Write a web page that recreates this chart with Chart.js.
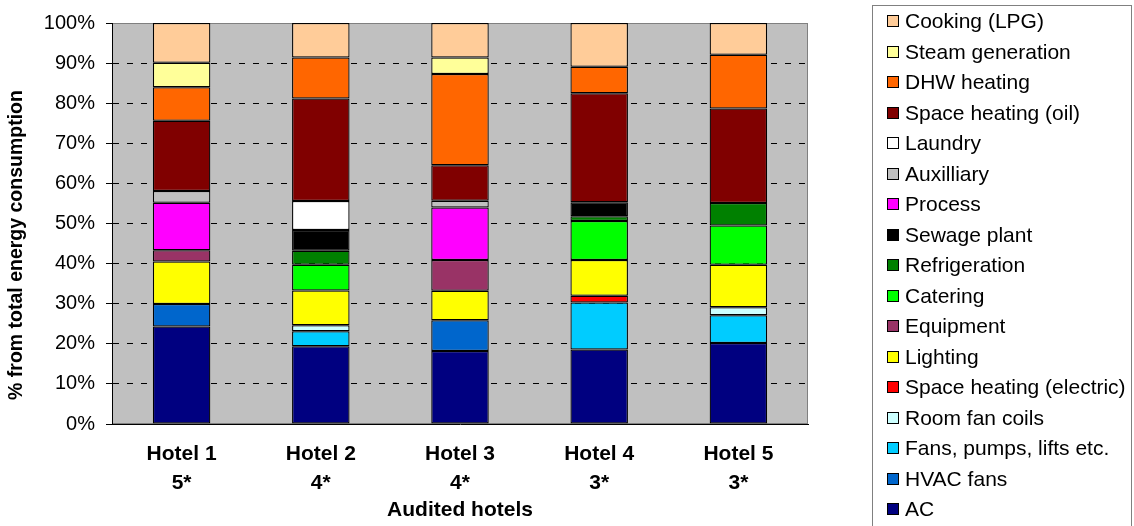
<!DOCTYPE html>
<html>
<head>
<meta charset="utf-8">
<script src="https://cdn.jsdelivr.net/npm/chart.js@4/dist/chart.umd.min.js"></script>
<style>
  html, body { margin: 0; padding: 0; background: #fff; }
  #wrap { position: relative; width: 1134px; height: 526px; overflow: hidden; }
  #wrap canvas { position: absolute; left: 0; top: 0; }
  #legend {
    position: absolute; left: 872px; top: 5px; width: 260px; height: 530px;
    border: 1px solid #808080; box-sizing: border-box;
    font-family: 'Liberation Sans', Arial, sans-serif; font-size: 21px; color: #000;
  }
  .item { position: absolute; left: 0; height: 30px; line-height: 30px; white-space: nowrap; }
  .swatch { position: absolute; left: 14px; top: 9px; width: 12px; height: 12px;
            border: 1px solid #000; box-sizing: border-box; }
  .label { position: absolute; left: 32px; top: 0; }
</style>
</head>
<body>
<div id="wrap">
  <canvas id="chart" width="1134" height="526"></canvas>
  <div id="legend"></div>
</div>
<script>
// Audited hotels and their star ratings
const hotelNames = ['Hotel 1', 'Hotel 2', 'Hotel 3', 'Hotel 4', 'Hotel 5'];
const hotelStars = ['5*', '4*', '4*', '3*', '3*'];

// Share of total energy consumption (%) per end use, stacked from the bottom up
const ac                   = [24.3, 19.4, 18.2, 18.6, 20.2];
const hvacFans             = [5.6, 0, 7.7, 0, 0];
const fansPumpsLifts       = [0, 3.7, 0, 11.7, 6.9];
const roomFanCoils         = [0, 1.5, 0, 0, 2.0];
const spaceHeatingElectric = [0, 0, 0, 1.7, 0];
const lighting             = [10.6, 8.7, 7.3, 8.9, 10.6];
const equipment            = [2.8, 0, 7.7, 0, 0];
const catering             = [0, 6.4, 0, 9.7, 9.8];
const refrigeration        = [0, 3.5, 0, 1.2, 5.6];
const sewagePlant          = [0, 5.2, 0, 3.5, 0];
const processUse           = [11.9, 0, 13.1, 0, 0];
const auxilliary           = [2.9, 0, 1.7, 0, 0];
const laundry              = [0, 7.2, 0, 0, 0];
const spaceHeatingOil      = [17.5, 25.6, 8.8, 27.2, 23.6];
const dhwHeating           = [8.4, 10.2, 22.8, 6.6, 13.4];
const steamGeneration      = [6.1, 0, 4.1, 0, 0];
const cookingLpg           = [9.9, 8.6, 8.6, 10.9, 7.9];

// Axis tick values
const yTicks = [0, 10, 20, 30, 40, 50, 60, 70, 80, 90, 100];

const series = [
  ['AC', ac, '#000080'],
  ['HVAC fans', hvacFans, '#0066CC'],
  ['Fans, pumps, lifts etc.', fansPumpsLifts, '#00CCFF'],
  ['Room fan coils', roomFanCoils, '#CCFFFF'],
  ['Space heating (electric)', spaceHeatingElectric, '#FF0000'],
  ['Lighting', lighting, '#FFFF00'],
  ['Equipment', equipment, '#993366'],
  ['Catering', catering, '#00FF00'],
  ['Refrigeration', refrigeration, '#008000'],
  ['Sewage plant', sewagePlant, '#000000'],
  ['Process', processUse, '#FF00FF'],
  ['Auxilliary', auxilliary, '#C0C0C0'],
  ['Laundry', laundry, '#FFFFFF'],
  ['Space heating (oil)', spaceHeatingOil, '#800000'],
  ['DHW heating', dhwHeating, '#FF6600'],
  ['Steam generation', steamGeneration, '#FFFF99'],
  ['Cooking (LPG)', cookingLpg, '#FFCC99']
];

const FONT = "'Liberation Sans', Arial, sans-serif";
const Y_TITLE = '% from total energy consumption';

const datasets = series.map(([label, data, color]) => ({
  label, data,
  backgroundColor: color,
  borderColor: '#000',
  borderWidth: 1.25,
  borderSkipped: false,
  categoryPercentage: 1,
  barPercentage: 0.413
}));

// Grey plot area with a thin frame
const plotBackground = {
  id: 'plotBackground',
  beforeDraw(chart) {
    const { ctx, chartArea: a } = chart;
    ctx.save();
    ctx.fillStyle = '#C0C0C0';
    ctx.fillRect(a.left, a.top, a.right - a.left, a.bottom - a.top);
    ctx.strokeStyle = '#808080';
    ctx.lineWidth = 1;
    ctx.strokeRect(a.left + 0.5, a.top + 0.5, a.right - a.left - 1, a.bottom - a.top - 1);
    ctx.restore();
  }
};

// Rotated value-axis title, set a little below the axis midpoint
const yAxisTitle = {
  id: 'yAxisTitle',
  afterDraw(chart) {
    const { ctx } = chart;
    ctx.save();
    ctx.translate(17, 245);
    ctx.rotate(-Math.PI / 2);
    ctx.font = 'bold 19.5px ' + FONT;
    ctx.fillStyle = '#000';
    ctx.textAlign = 'center';
    ctx.textBaseline = 'middle';
    ctx.fillText(Y_TITLE, 0, 0);
    ctx.restore();
  }
};

new Chart(document.getElementById('chart'), {
  type: 'bar',
  data: {
    labels: hotelNames.map((n, i) => [n, hotelStars[i]]),
    datasets
  },
  plugins: [plotBackground, yAxisTitle],
  options: {
    responsive: false,
    animation: false,
    layout: { padding: { top: 21, right: 326, bottom: 0, left: 0 } },
    plugins: { legend: { display: false }, tooltip: { enabled: false } },
    scales: {
      x: {
        stacked: true,
        afterFit(s) { s.height = 102; },
        grid: { display: false, drawTicks: false },
        border: { display: true, color: '#000', width: 1 },
        ticks: {
          color: '#000', padding: 16,
          font: { family: FONT, size: 21, weight: 'bold', lineHeight: 1.38 }
        },
        title: {
          display: true, text: 'Audited hotels', color: '#000',
          font: { family: FONT, size: 21, weight: 'bold', lineHeight: 1.2 },
          padding: { top: 0, bottom: 3 }
        }
      },
      y: {
        stacked: true, min: 0, max: 100,
        afterFit(s) { s.width = 112; },
        afterBuildTicks(s) { s.ticks = yTicks.map(v => ({ value: v })); },
        grid: {
          color: c => (c.tick && (c.tick.value === 0 || c.tick.value === 100)) ? 'rgba(0,0,0,0)' : '#000',
          lineWidth: 1,
          drawTicks: true, tickLength: 6, tickColor: '#000', tickWidth: 1
        },
        border: { display: true, color: '#000', width: 1, dash: [6, 8] },
        ticks: {
          color: '#000', padding: 11,
          font: { family: FONT, size: 20 },
          callback: v => v + '%'
        },
        title: { display: false }
      }
    }
  }
});

// Legend, listed top-down in stacking order
const legend = document.getElementById('legend');
series.slice().reverse().forEach(([label, , color], i) => {
  const item = document.createElement('div');
  item.className = 'item';
  item.style.top = (i * 30.5) + 'px';
  const sw = document.createElement('span');
  sw.className = 'swatch';
  sw.style.background = color;
  const tx = document.createElement('span');
  tx.className = 'label';
  tx.textContent = label;
  item.appendChild(sw);
  item.appendChild(tx);
  legend.appendChild(item);
});
</script>
</body>
</html>
